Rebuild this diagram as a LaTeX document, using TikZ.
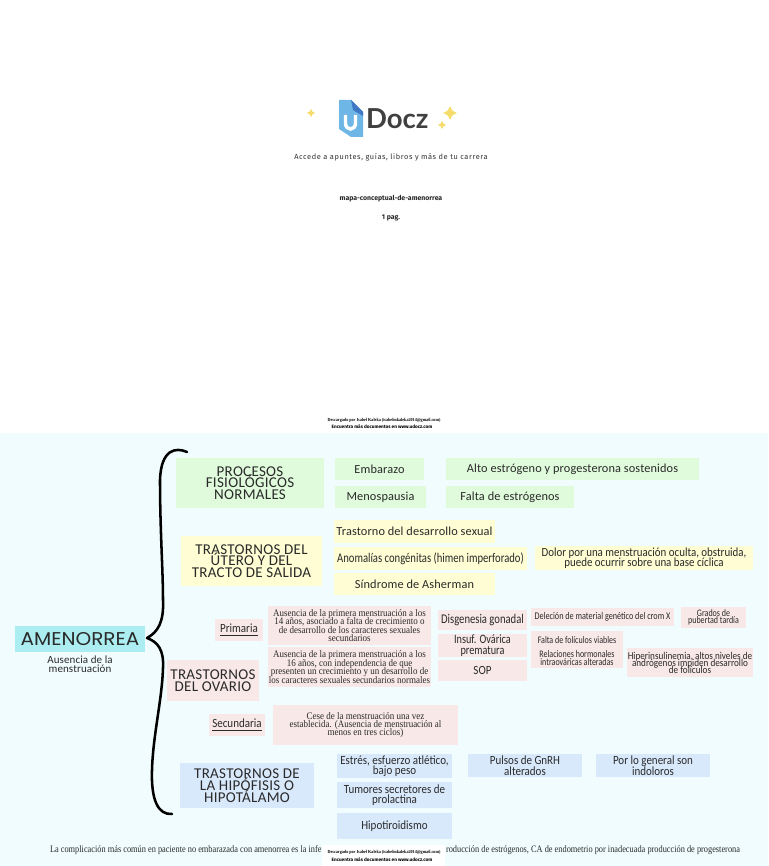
\documentclass[tikz,border=0pt]{standalone}
\usepackage{fontspec}
\setmainfont{Liberation Serif}
\newfontfamily\hwf[LetterSpace=2]{Carlito}
\newfontfamily\hdf[LetterSpace=1]{Carlito}
\newfontfamily\hnf[FakeStretch=0.88]{Carlito}
\newfontfamily\hcf[FakeStretch=0.8]{Carlito}
\newfontfamily\bdf[FakeStretch=0.9]{Liberation Serif}
\newfontfamily\ftf[FakeStretch=0.85]{Liberation Serif}
\newfontfamily\logof{Lato}
\newfontfamily\ubf[LetterSpace=8]{Fira Sans}
\newfontfamily\ubsf{Fira Sans}
\newfontfamily\decof[FakeStretch=1.08]{Poppins}
\definecolor{bgc}{HTML}{F0FCFD}
\definecolor{gr}{HTML}{DFFBDB}
\definecolor{ye}{HTML}{FEFDD3}
\definecolor{pk}{HTML}{F8E8E8}
\definecolor{bl}{HTML}{D9E9FC}
\definecolor{cy}{HTML}{ABEDF0}
\definecolor{ink}{HTML}{2A2A2A}
\definecolor{spark}{HTML}{F6DC6A}
\definecolor{docl}{HTML}{6DB6E6}
\definecolor{docd}{HTML}{3F77C4}
\newcommand{\sz}[2]{\fontsize{\dimexpr#1pt*3/4\relax}{\dimexpr#2pt*3/4\relax}\selectfont\lineskiplimit=-30pt\relax}
\tikzset{x=0.75pt,y=-0.75pt,
 boxn/.style={inner sep=0pt,outer sep=0pt,align=center,text=ink},
 lab/.style={inner sep=0pt,outer sep=0pt,align=center,text=ink},
 grbox/.style={boxn,fill=gr},yebox/.style={boxn,fill=ye},pkbox/.style={boxn,fill=pk},blbox/.style={boxn,fill=bl},
 brace/.style={draw=black,line width=1.9pt,line cap=round,line join=round},
 star/.style={fill=spark,draw=none},
 fhead/.style={font=\hwf\sz{15}{11.7}},
 fmid/.style={font=\hdf\sz{12.3}{13}},
 fnar/.style={font=\hnf\sz{12.5}{10.5}},
 fbody/.style={font=\bdf\sz{10}{8.4}},
 fsmall/.style={font=\hcf\sz{10}{7.6}}}
\newcommand{\bx}[7]{\pgfmathsetmacro\bxcx{(#2+#4)/2}\pgfmathsetmacro\bxcy{(#3+#5)/2}\pgfmathsetmacro\bxw{(#4-#2)*0.75}\pgfmathsetmacro\bxh{(#5-#3)*0.75}
 \node[#6,minimum width=\bxw pt,minimum height=\bxh pt] (#1) at (\bxcx,\bxcy) {#7};}
\newcommand{\spk}[3]{\fill[star] (#1,#2-#3) .. controls (#1+.3*#3,#2-.3*#3) .. (#1+#3,#2) .. controls (#1+.3*#3,#2+.3*#3) .. (#1,#2+#3) .. controls (#1-.3*#3,#2+.3*#3) .. (#1-#3,#2) .. controls (#1-.3*#3,#2-.3*#3) .. (#1,#2-#3) -- cycle;}
\begin{document}
\begin{tikzpicture}
\useasboundingbox (0,0) rectangle (768,866);
\fill[white] (0,0) rectangle (768,433);
\fill[bgc] (0,433) rectangle (768,866);
% logo
\fill[docl] (339,100) -- (351,100) -- (363,112) -- (363,137) -- (351,137) -- (339,129) -- cycle;
\fill[docd] (351,100) -- (363,112) -- (363,116) -- (353,110) -- cycle;
\draw[white,line width=2.6pt] (345.5,115) -- (345.5,123) .. controls (345.5,131) and (355.5,131) .. (355.5,123) -- (355.5,115);
\node[lab,anchor=west,text=black!75,font=\logof\bfseries\sz{27.5}{28}] (docz) at (366,119) {Docz};
\spk{311}{113}{4}\spk{450}{113}{7}\spk{442}{125}{4}
\node[lab,text=black!80,font=\ubf\sz{7.4}{9}] (tag) at (391,157) {Accede a apuntes, guías, libros y más de tu carrera};
\node[lab,text=black!85,font=\ubsf\bfseries\sz{6.9}{8}] (title) at (391,199) {mapa-conceptual-de-amenorrea};
\node[lab,text=black!85,font=\ubsf\bfseries\sz{6.9}{8}] (pag) at (391,218) {1 pag.};
\node[lab,text=black,font=\bdf\bfseries\sz{4.6}{5}] (dl1) at (384,420) {Descargado por Isabel Kaleka (isabelmkaleka2014@gmail.com)};
\node[lab,text=black,font=\ubsf\bfseries\sz{4.7}{5}] (dl2) at (382,427) {Encuentra más documentos en www.udocz.com};
% brace
\draw[brace] (187,452) .. controls (176,447) and (161,449) .. (160,480)
 .. controls (160,530) and (163,570) .. (163,600)
 .. controls (164,622) and (158,632) .. (147,638)
 .. controls (158,642) and (164,650) .. (163,668)
 .. controls (162,700) and (153,735) .. (152,770)
 .. controls (151,800) and (158,815) .. (172,814);
% root
\bx{root}{15}{626}{145}{652}{boxn,fill=cy,font=\decof\sz{18.5}{20}}{AMENORREA}
\node[lab,font=\hdf\sz{11}{9.5}] (rootsub) at (80,664) {Ausencia de la\\menstruación};
% green
\bx{g0}{176}{458}{324}{508}{grbox,fhead}{PROCESOS\\FISIOLÓGICOS\\NORMALES}
\bx{g1}{335}{458}{424}{480}{grbox,fmid}{Embarazo}
\bx{g2}{335}{486}{426}{508}{grbox,fmid}{Menospausia}
\bx{g3}{446}{458}{699}{480}{grbox,fmid}{Alto estrógeno y progesterona sostenidos}
\bx{g4}{446}{486}{574}{508}{grbox,fmid}{Falta de estrógenos}
% yellow
\bx{y0}{181}{536}{322}{586}{yebox,fhead}{TRASTORNOS DEL\\ÚTERO Y DEL\\TRACTO DE SALIDA}
\bx{y1}{334}{520}{495}{543}{yebox,fmid}{Trastorno del desarrollo sexual}
\bx{y2}{334}{547}{527}{570}{yebox,font=\hcf\sz{13.3}{13}}{Anomalías congénitas (himen imperforado)}
\bx{y3}{334}{573}{495}{595}{yebox,fmid}{Síndrome de Asherman}
\bx{y4}{535}{546}{753}{570}{yebox,font=\hnf\sz{12.4}{9.5}}{Dolor por una menstruación oculta, obstruida,\\puede ocurrir sobre una base cíclica}
% pink
\bx{p0}{167}{660}{259}{701}{pkbox,font=\hwf\sz{15}{12.5}}{TRASTORNOS\\DEL OVARIO}
\bx{p1}{215}{619}{263}{641}{pkbox,fnar}{\underline{Primaria}}
\bx{p2}{268}{606}{431}{645}{pkbox,fbody}{Ausencia de la primera menstruación a los\\14 años, asociado a falta de crecimiento o\\de desarrollo de los caracteres sexuales\\secundarios}
\bx{p3}{268}{647}{431}{687}{pkbox,fbody}{Ausencia de la primera menstruación a los\\16 años, con independencia de que\\presenten un crecimiento y un desarrollo de\\los caracteres sexuales secundarios normales}
\bx{p4}{209}{714}{265}{736}{pkbox,fnar}{\underline{Secundaria}}
\bx{p5}{273}{705}{458}{745}{pkbox,font=\bdf\sz{10}{8.4}}{Cese de la menstruación una vez\\establecida. (Ausencia de menstruación al\\menos en tres ciclos)}
\bx{p6}{438}{610}{527}{630}{pkbox,font=\hcf\sz{13.3}{13}}{Disgenesia gonadal}
\bx{p7}{438}{634}{527}{657}{pkbox,font=\hcf\sz{12.8}{10.5}}{Insuf. Ovárica\\prematura}
\bx{p8}{438}{660}{527}{681}{pkbox,fnar}{SOP}
\bx{p9}{531}{608}{674}{626}{pkbox,font=\hcf\sz{10.2}{9}}{Deleción de material genético del crom X}
\bx{p10}{681}{607}{746}{628}{pkbox,fsmall}{Grados de\\pubertad tardía}
\bx{p11}{531}{631}{623}{650}{pkbox,fsmall}{Falta de folículos viables}
\bx{p12}{531}{648}{623}{668}{pkbox,fsmall}{Relaciones hormonales\\intraováricas alteradas}
\bx{p13}{627}{648}{753}{677}{pkbox,font=\hnf\sz{10.4}{7}}{Hiperinsulinemia, altos niveles de\\andrógenos impiden desarrollo\\de folículos}
% blue
\bx{b0}{180}{763}{314}{808}{blbox,font=\hwf\sz{15}{11.7}}{TRASTORNOS DE\\LA HIPÓFISIS O\\HIPOTÁLAMO}
\bx{b1}{337}{754}{452}{778}{blbox,fnar}{Estrés, esfuerzo atlético,\\bajo peso}
\bx{b2}{337}{782}{452}{808}{blbox,fnar}{Tumores secretores de\\prolactina}
\bx{b3}{337}{813}{452}{839}{blbox,fnar}{Hipotiroidismo}
\bx{b4}{468}{754}{582}{777}{blbox,fnar}{Pulsos de GnRH\\alterados}
\bx{b5}{596}{754}{710}{777}{blbox,fnar}{Por lo general son\\indoloros}
% footer
\node[lab,anchor=west,font=\ftf\sz{9.8}{10}] (f1) at (50,850) {La complicación más común en paciente no embarazada con amenorrea es la infer};
\node[lab,anchor=east,font=\ftf\sz{9.8}{10}] (f2) at (740,850) {roducción de estrógenos, CA de endometrio por inadecuada producción de progesterona};
\fill[white] (322,845) rectangle (445,866);
\node[lab,text=black,font=\bdf\bfseries\sz{4.6}{5}] (dl3) at (384,852) {Descargado por Isabel Kaleka (isabelmkaleka2014@gmail.com)};
\node[lab,text=black,font=\ubsf\bfseries\sz{4.7}{5}] (dl4) at (382,860) {Encuentra más documentos en www.udocz.com};
\end{tikzpicture}
\end{document}
